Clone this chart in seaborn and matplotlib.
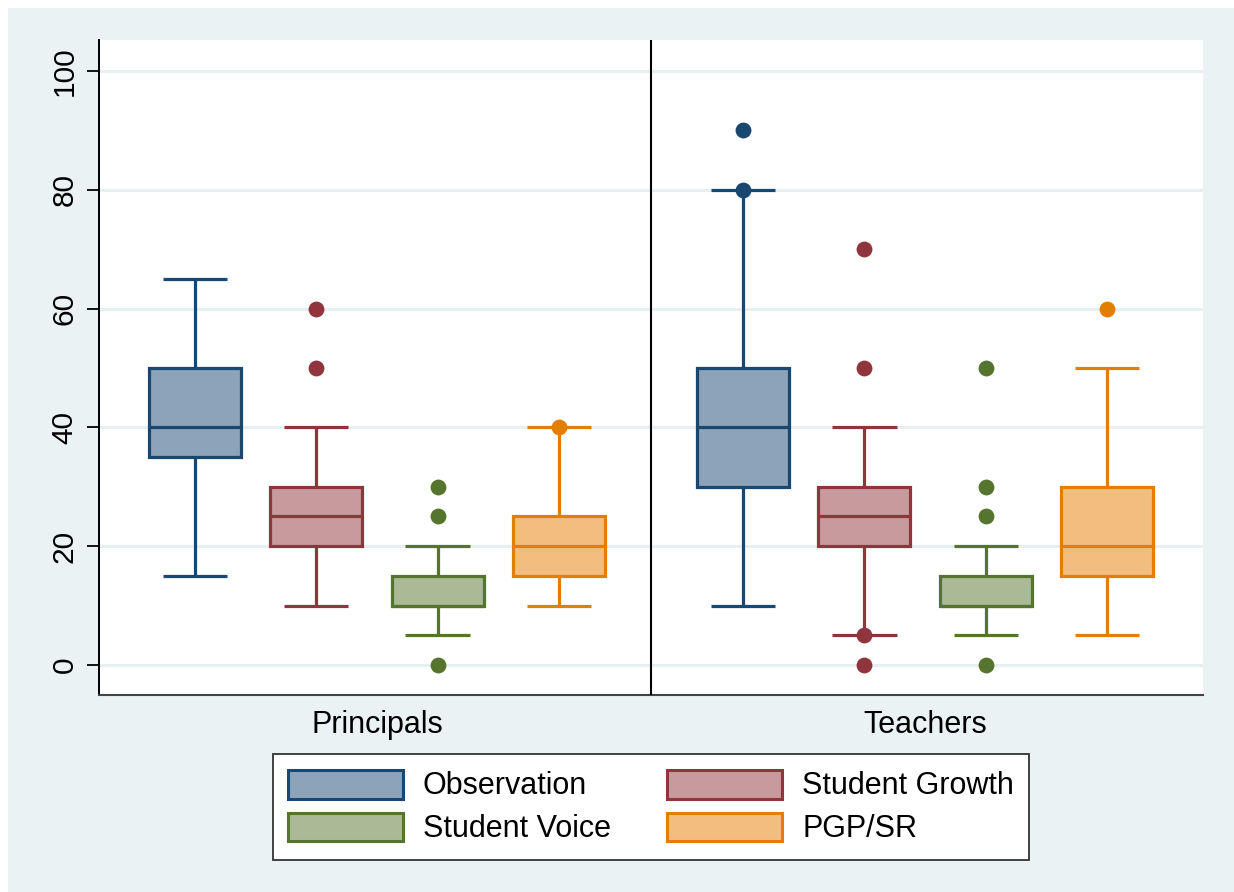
import matplotlib
matplotlib.use("Agg")
import matplotlib.pyplot as plt
from matplotlib.patches import Patch, Rectangle
import pandas as pd
import seaborn as sns

groups = ["Principals", "Teachers"]
measures = ["Observation", "Student Growth", "Student Voice", "PGP/SR"]

# Box summaries per measure: lower whisker, Q1, median, Q3, upper whisker, outliers
principals_low = [15, 10, 5, 10]
principals_q1 = [35, 20, 10, 15]
principals_median = [40, 25, 10, 20]
principals_q3 = [50, 30, 15, 25]
principals_high = [65, 40, 20, 40]
principals_outliers = [[], [50, 60], [0, 25, 30], [40]]

teachers_low = [10, 5, 5, 5]
teachers_q1 = [30, 20, 10, 15]
teachers_median = [40, 25, 10, 20]
teachers_q3 = [50, 30, 15, 30]
teachers_high = [80, 40, 20, 50]
teachers_outliers = [[80, 90], [0, 5, 50, 70], [0, 25, 30, 50], [60]]

line_colors = ["#1A476F", "#90353B", "#55752F", "#E37E00"]
fill_colors = ["#8CA3B9", "#C79A9D", "#AABA97", "#F1BE7F"]
background = "#EAF2F3"

summaries = {
    "Principals": (principals_low, principals_q1, principals_median,
                   principals_q3, principals_high, principals_outliers),
    "Teachers": (teachers_low, teachers_q1, teachers_median,
                 teachers_q3, teachers_high, teachers_outliers),
}

# Long table whose quartiles and extremes reproduce each summary
rows = []
for g in groups:
    lo, q1, med, q3, hi, _ = summaries[g]
    for i, m in enumerate(measures):
        values = [lo[i]] + [q1[i]] * 10 + [med[i]] * 10 + [q3[i]] * 10 + [hi[i]]
        rows += [(g, m, v) for v in values]
df = pd.DataFrame(rows, columns=["group", "measure", "score"])

sns.set_style("white")
plt.rcParams["font.family"] = ["Liberation Sans", "DejaVu Sans"]
plt.rcParams["text.color"] = "black"
plt.rcParams["xtick.color"] = "black"
plt.rcParams["ytick.color"] = "black"
plt.rcParams["xtick.labelcolor"] = "black"
plt.rcParams["ytick.labelcolor"] = "black"

W, H = 1234, 892
fig = plt.figure(figsize=(W / 100, H / 100), dpi=100, facecolor=background)
fig.add_artist(Rectangle((0, 0), 8 / W, 1, transform=fig.transFigure,
                         facecolor="white", edgecolor="none", zorder=-1))
fig.add_artist(Rectangle((0, 1 - 8 / H), 1, 8 / H, transform=fig.transFigure,
                         facecolor="white", edgecolor="none", zorder=-1))

ax = fig.add_axes([99 / W, 197 / H, 1104 / W, 655 / H])
ax.set_facecolor("white")
ax.set_axisbelow(True)

sns.boxplot(data=df, x="group", y="score", hue="measure",
            order=groups, hue_order=measures, palette=fill_colors,
            saturation=1, width=0.886, gap=0.243, whis=(0, 100),
            showfliers=False, linewidth=2.3, legend=False, ax=ax)

lw = 2.3
for i, cont in enumerate(ax.containers):
    color = line_colors[i]
    for box in cont.boxes:
        box.set_edgecolor(color)
        box.set_linewidth(lw)
        box.set_joinstyle("miter")
    for ln in list(cont.whiskers) + list(cont.medians):
        ln.set_color(color)
        ln.set_linewidth(lw)
        ln.set_solid_capstyle("butt")
    for j, med_line in enumerate(cont.medians):
        xs = med_line.get_xdata()
        center = (xs[0] + xs[1]) / 2
        half = abs(xs[1] - xs[0]) / 2
        for cap in cont.caps[2 * j:2 * j + 2]:
            cap.set_xdata([center - 0.7 * half, center + 0.7 * half])
            cap.set_color(color)
            cap.set_linewidth(lw)
            cap.set_solid_capstyle("butt")
        outs = summaries[groups[j]][5][i]
        if outs:
            ax.scatter([center] * len(outs), outs, s=130, color=color,
                       linewidths=0, zorder=5)

ax.axvline(0.5, color="black", linewidth=1.5, zorder=4)

ax.set_xlim(-0.507, 1.507)
ax.set_ylim(-5.05, 105.2)
ax.set_yticks([0, 20, 40, 60, 80, 100])
ax.yaxis.grid(True, color="#E8EFF0", linewidth=2.2)
ax.xaxis.grid(False)
ax.set_xlabel("")
ax.set_ylabel("")

for side in ("top", "right"):
    ax.spines[side].set_visible(False)
ax.spines["left"].set_color("black")
ax.spines["left"].set_linewidth(1.4)
ax.spines["bottom"].set_color("#444444")
ax.spines["bottom"].set_linewidth(1.5)

ax.tick_params(axis="y", length=8.6, width=1.3, color="black", pad=6,
               labelsize=21.5, labelrotation=90, left=True, labelcolor="black")
for lbl in ax.get_yticklabels():
    lbl.set_va("center")
ax.tick_params(axis="x", length=0, pad=11, labelsize=22, labelcolor="black")

handles = [Patch(facecolor=fill_colors[k], edgecolor=line_colors[k],
                 linewidth=2.2, label=measures[k]) for k in (0, 2, 1, 3)]
leg = fig.legend(handles=handles, ncol=2, loc="center",
                 bbox_to_anchor=(651 / W, 1 - 807 / H), fontsize=22,
                 frameon=True, fancybox=False, edgecolor="#333333",
                 framealpha=1, facecolor="white", labelcolor="black",
                 handlelength=3.76, handleheight=1.08, handletextpad=0.65,
                 columnspacing=1.85, labelspacing=0.36, borderpad=0.5)
leg.get_frame().set_linewidth(1.3)

fig.savefig("out.png", dpi=100, facecolor=background)
